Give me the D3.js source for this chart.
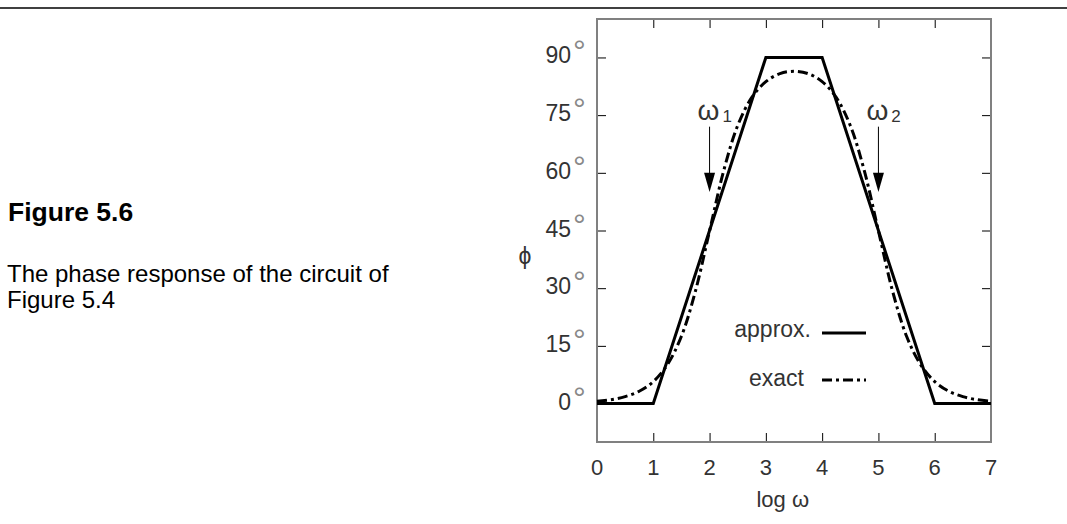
<!DOCTYPE html>
<html>
<head>
<meta charset="utf-8">
<script src="https://cdn.jsdelivr.net/npm/d3@7"></script>
<style>
  body { margin: 0; background: #fff; }
  svg { display: block; }
  text { font-family: "Liberation Sans", Arial, sans-serif; }
</style>
</head>
<body>
<div id="chart"></div>
<script>
// x ticks (log omega) and y ticks (degrees)
const xTicks = [0, 1, 2, 3, 4, 5, 6, 7];
const yTicks = [0, 15, 30, 45, 60, 75, 90];

// straight-line approximation
const approxX = [0, 1, 3, 4, 6, 7];
const approxY = [0, 0, 90, 90, 0, 0];

// exact curve
const exactX = [0, 0.25, 0.5, 0.75, 1, 1.25, 1.5, 1.75, 2, 2.25, 2.5, 2.75, 3, 3.25, 3.5,
                3.75, 4, 4.25, 4.5, 4.75, 5, 5.25, 5.5, 5.75, 6, 6.25, 6.5, 6.75, 7];
const exactY = [0.6, 1.0, 1.8, 3.2, 5.7, 10.1, 17.5, 29.3, 44.9, 60.5, 72.3, 79.6, 83.7, 85.8, 86.4,
                85.8, 83.7, 79.6, 72.3, 60.5, 44.9, 29.3, 17.5, 10.1, 5.7, 3.2, 1.8, 1.0, 0.6];

// corner frequency markers
const markerX = [2, 5];
const markerSub = ["1", "2"];

const W = 1067, H = 524;
const svg = d3.select('#chart').append('svg').attr('width', W).attr('height', H);

// rule across the top of the page
svg.append('line').attr('x1', 0).attr('x2', W).attr('y1', 8).attr('y2', 8)
  .attr('stroke', '#000').attr('stroke-width', 1.5);

// caption
svg.append('text').text('Figure 5.6').attr('x', 8).attr('y', 221)
  .style('font-size', '26.5px').style('font-weight', 'bold').attr('fill', '#000');
svg.append('text').text('The phase response of the circuit of').attr('x', 7).attr('y', 282)
  .style('font-size', '24px').attr('fill', '#000');
svg.append('text').text('Figure 5.4').attr('x', 7).attr('y', 308)
  .style('font-size', '24px').attr('fill', '#000');

const x = d3.scaleLinear().domain([0, 7]).range([597, 991]);
const y = d3.scaleLinear().domain([-10, 100]).range([442, 19]);

const tickLen = 9;
const g = svg.append('g');

// ticks (inward)
g.append('g').attr('transform', `translate(0,${y(-10)})`)
  .call(d3.axisBottom(x).tickValues(xTicks.slice(1, -1)).tickSizeInner(-tickLen).tickSizeOuter(0).tickFormat(''))
  .call(a => a.select('.domain').remove());
g.append('g').attr('transform', `translate(0,${y(100)})`)
  .call(d3.axisTop(x).tickValues(xTicks.slice(1, -1)).tickSizeInner(-tickLen).tickSizeOuter(0).tickFormat(''))
  .call(a => a.select('.domain').remove());
g.append('g').attr('transform', `translate(${x(0)},0)`)
  .call(d3.axisLeft(y).tickValues(yTicks).tickSizeInner(-tickLen).tickSizeOuter(0).tickFormat(''))
  .call(a => a.select('.domain').remove());
g.append('g').attr('transform', `translate(${x(7)},0)`)
  .call(d3.axisRight(y).tickValues(yTicks).tickSizeInner(-tickLen).tickSizeOuter(0).tickFormat(''))
  .call(a => a.select('.domain').remove());
g.selectAll('.tick line').attr('stroke', '#000').attr('stroke-width', 1);

// frame
g.append('rect').attr('x', x(0)).attr('y', y(100))
  .attr('width', x(7) - x(0)).attr('height', y(-10) - y(100))
  .attr('fill', 'none').attr('stroke', '#808080').attr('stroke-width', 2);

// tick labels
const labColor = '#333';
xTicks.forEach(v => {
  svg.append('text').text(v).attr('x', x(v)).attr('y', 475)
    .attr('text-anchor', 'middle').style('font-size', '22px').attr('fill', labColor);
});
yTicks.forEach(v => {
  svg.append('text').attr('x', 571).attr('y', y(v) + 6)
    .attr('text-anchor', 'end').style('font-size', '23px').attr('fill', labColor).text(v);
  svg.append('text').text('°').attr('x', 573).attr('y', y(v) + 5)
    .style('font-size', '32px').attr('fill', '#888');
});

svg.append('text').text('log ω').attr('x', x(3.3)).attr('y', 507)
  .attr('text-anchor', 'middle').style('font-size', '22px').attr('fill', labColor);
svg.append('text').text('ϕ').attr('x', 525).attr('y', 264)
  .attr('text-anchor', 'middle').style('font-size', '23px').attr('fill', labColor);

// curves
const line = d3.line().x(d => x(d[0])).y(d => y(d[1]));
svg.append('path').datum(approxX.map((v, i) => [v, approxY[i]]))
  .attr('d', line).attr('fill', 'none').attr('stroke', '#000').attr('stroke-width', 3)
  .attr('stroke-linejoin', 'miter');
svg.append('path').datum(exactX.map((v, i) => [v, exactY[i]]))
  .attr('d', line.curve(d3.curveCatmullRom)).attr('fill', 'none').attr('stroke', '#000')
  .attr('stroke-width', 3).attr('stroke-dasharray', '10,4,3,4');

// legend
svg.append('text').text('approx.').attr('x', 811).attr('y', 337)
  .attr('text-anchor', 'end').style('font-size', '23px').attr('fill', labColor);
svg.append('line').attr('x1', 822).attr('x2', 866).attr('y1', 333).attr('y2', 333)
  .attr('stroke', '#000').attr('stroke-width', 3);
svg.append('text').text('exact').attr('x', 804).attr('y', 386)
  .attr('text-anchor', 'end').style('font-size', '23px').attr('fill', labColor);
svg.append('line').attr('x1', 822).attr('x2', 866).attr('y1', 380).attr('y2', 380)
  .attr('stroke', '#000').attr('stroke-width', 3).attr('stroke-dasharray', '10,4,3,4');

// omega markers with arrows
markerX.forEach((v, i) => {
  const ax = x(v);
  svg.append('line').attr('x1', ax).attr('x2', ax).attr('y1', y(72)).attr('y2', y(59))
    .attr('stroke', '#000').attr('stroke-width', 1);
  svg.append('path')
    .attr('d', `M${ax - 5.5},${y(60)} L${ax + 5.5},${y(60)} L${ax},${y(55)} Z`)
    .attr('fill', '#000');
  const t = svg.append('text').attr('x', ax - 12).attr('y', 120)
    .style('font-size', '28px').attr('fill', labColor);
  t.append('tspan').text('ω');
  t.append('tspan').text(markerSub[i]).attr('dx', 3).attr('dy', 2).style('font-size', '17px');
});
</script>
</body>
</html>
